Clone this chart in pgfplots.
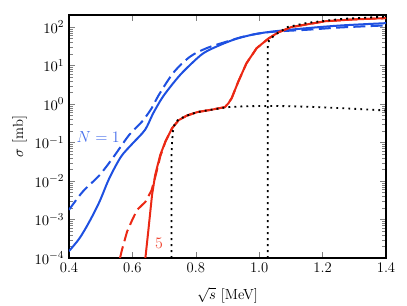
\documentclass[border=0pt]{standalone}
\usepackage{pgfplots}
\pgfplotsset{compat=1.18}
\definecolor{cblue}{RGB}{30,80,225}
\definecolor{cred}{RGB}{235,40,20}
\definecolor{lblue}{RGB}{70,110,235}
\definecolor{lred}{RGB}{240,70,50}
\begin{document}
\begin{tikzpicture}
\useasboundingbox (-51.75pt,-35.25pt) rectangle (253.5pt,193.5pt);
\begin{axis}[
  at={(0pt,0pt)}, anchor=south west,
  width=237.75pt, height=182.25pt, scale only axis,
  ymode=log,
  xmin=0.4, xmax=1.4, ymin=1e-4, ymax=205,
  xtick={0.4,0.6,0.8,1.0,1.2,1.4},
  xticklabels={0.4,0.6,0.8,1.0,1.2,1.4},
  ytick={1e-4,1e-3,1e-2,1e-1,1,10,100},
  axis line style={line width=0.8pt},
  tick label style={font=\fontsize{11}{13}\selectfont},
  label style={font=\fontsize{11}{13}\selectfont},
  xlabel={$\sqrt{s}$ [MeV]},
  ylabel={$\sigma$ [mb]},
  xlabel style={yshift=-4pt},
  ylabel style={yshift=-1pt},
]
% blue solid
\addplot[cblue, line width=1.5pt, smooth] coordinates {
(0.400,1.51e-4) (0.433,3.24e-4) (0.464,8.71e-4) (0.496,2.88e-3) (0.527,1.17e-2)
(0.564,4.27e-2) (0.600,9.33e-2) (0.640,0.214) (0.665,0.562) (0.693,1.41)
(0.720,2.82) (0.750,5.62) (0.780,10.0) (0.824,20.9) (0.876,33.9) (0.930,50.1)
(0.990,66.1) (1.050,77.6) (1.150,93.3) (1.260,110) (1.400,126)
};
% blue dashed
\addplot[cblue, line width=1.5pt, smooth, dash pattern=on 9pt off 4pt] coordinates {
(0.400,1.78e-3) (0.443,5.25e-3) (0.496,1.41e-2) (0.540,4.17e-2) (0.590,0.158)
(0.630,0.347) (0.660,0.759) (0.683,1.70) (0.730,6.61) (0.782,17.0) (0.834,28.2)
(0.897,41.7) (0.960,58.9) (1.034,74.1) (1.154,85.1) (1.260,97.7) (1.400,110)
};
% red solid
\addplot[cred, line width=1.5pt] coordinates {
(0.641,1.0e-4) (0.651,5.89e-4) (0.662,4.37e-3) (0.672,1.45e-2) (0.688,4.79e-2)
(0.704,0.105) (0.725,0.234) (0.746,0.380) (0.772,0.501) (0.805,0.617)
(0.855,0.724) (0.892,0.832) (0.903,1.05) (0.913,1.41) (0.934,3.80) (0.960,11.5)
(0.992,28.2) (1.029,50.1) (1.060,72.4) (1.102,100) (1.208,141) (1.300,158) (1.400,170)
};
% red dashed
\addplot[cred, line width=1.5pt, dash pattern=on 9pt off 4pt] coordinates {
(0.561,1.0e-4) (0.567,1.62e-4) (0.583,4.79e-4) (0.600,1.0e-3) (0.615,1.78e-3)
(0.641,2.88e-3) (0.660,5.62e-3) (0.672,1.26e-2) (0.688,4.37e-2) (0.704,0.105)
(0.725,0.234) (0.746,0.380) (0.772,0.501) (0.805,0.617) (0.855,0.724) (0.892,0.832)
(0.903,1.05) (0.913,1.41) (0.934,3.80) (0.960,11.5) (0.992,28.2) (1.029,50.1)
(1.060,72.4) (1.102,100) (1.208,141) (1.300,158) (1.400,170)
};
% black dotted 1
\addplot[black, line width=1.4pt, dash pattern=on 1.4pt off 3.1pt] coordinates {
(0.7235,1e-4) (0.7235,0.05) (0.725,0.1) (0.728,0.2) (0.734,0.316) (0.746,0.40)
(0.772,0.50) (0.805,0.617) (0.855,0.724) (0.900,0.83) (0.950,0.87) (1.000,0.89)
(1.050,0.89) (1.154,0.85) (1.260,0.78) (1.400,0.68)
};
% black dotted 2
\addplot[black, line width=1.4pt, dash pattern=on 1.4pt off 3.1pt] coordinates {
(1.027,1e-4) (1.027,30) (1.031,45) (1.050,63) (1.090,100) (1.154,129) (1.260,162) (1.400,186)
};
\node[lblue, font=\large] at (axis cs:0.492,0.138) {$N=1$};
\node[lred, font=\large] at (axis cs:0.684,2.45e-4) {$5$};
\end{axis}
\end{tikzpicture}
\end{document}
